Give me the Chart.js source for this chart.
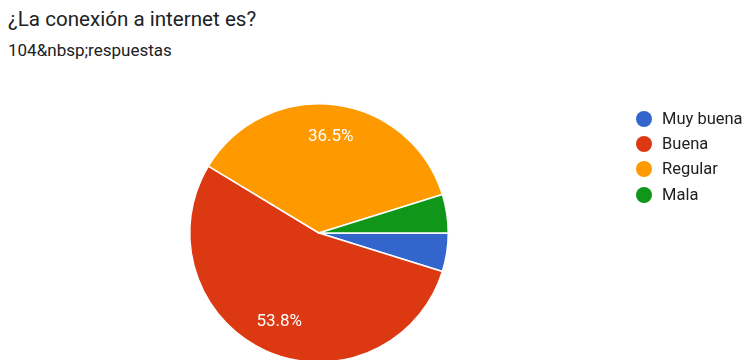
<!DOCTYPE html>
<html>
<head>
<meta charset="utf-8">
<script src="https://cdn.jsdelivr.net/npm/chart.js@4/dist/chart.umd.min.js"></script>
<style>
  html, body { margin: 0; padding: 0; background: #fff; }
  body { width: 745px; height: 360px; overflow: hidden; position: relative; font-family: Roboto, "Noto Sans", sans-serif; }
  #title { position: absolute; left: 8px; top: 7px; font-size: 20.6px; color: #202124; white-space: nowrap; }
  #subtitle { position: absolute; left: 8px; top: 40px; font-size: 17px; color: #202124; white-space: nowrap; }
  #wrap { position: absolute; left: 0; top: 0; width: 745px; height: 380px; }
  #legend { position: absolute; left: 636px; top: 106px; list-style: none; margin: 0; padding: 0; }
  #legend li { height: 25.2px; line-height: 25.2px; font-size: 16.5px; color: #202124; white-space: nowrap; }
  #legend span { display: inline-block; width: 16px; height: 16px; border-radius: 50%; vertical-align: -3px; margin-right: 10px; }
</style>
</head>
<body>
<div id="title">¿La conexión a internet es?</div>
<div id="subtitle">104&amp;nbsp;respuestas</div>
<div id="wrap"><canvas id="pie" width="745" height="380"></canvas></div>
<ul id="legend"></ul>
<script>
// answer categories and counts (104 responses)
const categories = ["Muy buena", "Buena", "Regular", "Mala"];
const counts = [5, 56, 38, 5];
const colors = ["#3366cc", "#dc3912", "#ff9900", "#109618"];

const total = counts.reduce((a, b) => a + b, 0);

// percentage labels inside the bigger slices
const sliceLabels = {
  id: "sliceLabels",
  afterDatasetsDraw(chart) {
    const ctx = chart.ctx;
    const meta = chart.getDatasetMeta(0);
    ctx.save();
    ctx.fillStyle = "#ffffff";
    ctx.font = "17px Roboto";
    ctx.textAlign = "center";
    ctx.textBaseline = "middle";
    meta.data.forEach((arc, i) => {
      const pct = counts[i] / total * 100;
      if (pct < 10) return;
      const mid = (arc.startAngle + arc.endAngle) / 2;
      const d = arc.outerRadius * 0.75;
      ctx.fillText(pct.toFixed(1) + "%", arc.x + Math.cos(mid) * d, arc.y + Math.sin(mid) * d);
    });
    ctx.restore();
  }
};

new Chart(document.getElementById("pie"), {
  type: "pie",
  data: {
    labels: categories,
    datasets: [{
      data: counts,
      backgroundColor: colors,
      borderColor: "#ffffff",
      borderWidth: 1.5
    }]
  },
  options: {
    responsive: false,
    devicePixelRatio: 1,
    animation: false,
    rotation: 90,
    layout: { padding: { left: 189, right: 296, top: 103, bottom: 17 } },
    plugins: {
      legend: { display: false },
      tooltip: { enabled: false }
    }
  },
  plugins: [sliceLabels]
});

// legend on the right
const legend = document.getElementById("legend");
categories.forEach((name, i) => {
  const li = document.createElement("li");
  const dot = document.createElement("span");
  dot.style.background = colors[i];
  li.appendChild(dot);
  li.appendChild(document.createTextNode(name));
  legend.appendChild(li);
});
</script>
</body>
</html>
